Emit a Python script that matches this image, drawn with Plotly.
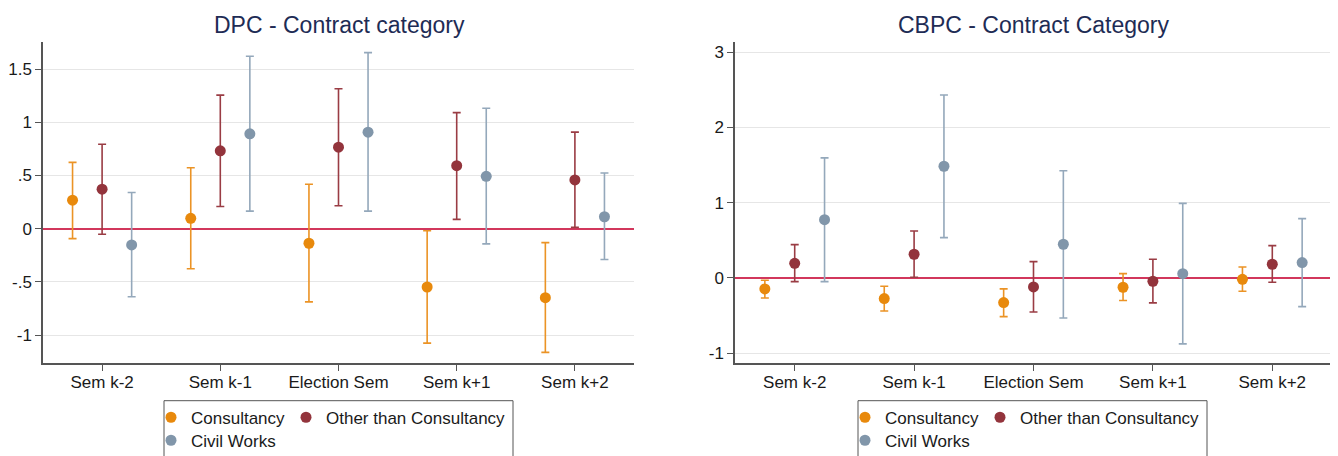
import plotly.graph_objects as go

# ---------------- data ----------------
categories = ["Sem k-2", "Sem k-1", "Election Sem", "Sem k+1", "Sem k+2"]
series_names = ["Consultancy", "Other than Consultancy", "Civil Works"]

# DPC panel
dpc_cons = [0.268, 0.097, -0.137, -0.548, -0.648]
dpc_cons_lo = [-0.093, -0.377, -0.688, -1.075, -1.162]
dpc_cons_hi = [0.623, 0.573, 0.418, -0.019, -0.131]
dpc_other = [0.371, 0.732, 0.766, 0.592, 0.458]
dpc_other_lo = [-0.053, 0.209, 0.215, 0.087, 0.012]
dpc_other_hi = [0.794, 1.255, 1.315, 1.090, 0.907]
dpc_civil = [-0.153, 0.891, 0.907, 0.492, 0.112]
dpc_civil_lo = [-0.639, 0.165, 0.165, -0.143, -0.290]
dpc_civil_hi = [0.340, 1.620, 1.654, 1.131, 0.523]

# CBPC panel
cbpc_cons = [-0.146, -0.275, -0.328, -0.124, -0.018]
cbpc_cons_lo = [-0.266, -0.439, -0.514, -0.301, -0.177]
cbpc_cons_hi = [-0.031, -0.110, -0.146, 0.057, 0.146]
cbpc_other = [0.195, 0.315, -0.120, -0.044, 0.182]
cbpc_other_lo = [-0.049, 0.009, -0.452, -0.332, -0.057]
cbpc_other_hi = [0.443, 0.625, 0.217, 0.248, 0.429]
cbpc_civil = [0.775, 1.485, 0.448, 0.057, 0.204]
cbpc_civil_lo = [-0.049, 0.536, -0.532, -0.877, -0.381]
cbpc_civil_hi = [1.596, 2.433, 1.426, 0.992, 0.789]

dpc_yticks = [-1, -0.5, 0, 0.5, 1, 1.5]
dpc_yticklabels = ["-1", "-.5", "0", ".5", "1", "1.5"]
cbpc_yticks = [-1, 0, 1, 2, 3]
cbpc_yticklabels = ["-1", "0", "1", "2", "3"]

titles = ["DPC - Contract category", "CBPC - Contract Category"]

# ---------------- style ----------------
# the page body has an 8px margin, so the figure is drawn from (8, 8)
OFF = 8
W, H = 1338 - OFF, 456 - OFF
ML = 43 - OFF
MT = 42 - OFF
PLOT_R = 1332 - OFF
PLOT_B = 363 - OFF
MR = W - PLOT_R
MB = H - PLOT_B
PW = W - ML - MR
PH = H - MT - MB
marker_colors = ["#E8890C", "#93343C", "#8196AA"]
bar_colors = ["#EB9325", "#9A3C44", "#94A8BB"]
offsets = [-0.25, 0.0, 0.25]
FONT = "Liberation Sans, Arial, sans-serif"


def px_x(p):
    """reference screen pixel -> paper x"""
    return (p - OFF - ML) / PW


def px_y(p):
    """reference screen pixel -> paper y"""
    return (MT + PH - (p - OFF)) / PH


fig = go.Figure()

panels = [
    ("x", "y", [(dpc_cons, dpc_cons_lo, dpc_cons_hi),
                (dpc_other, dpc_other_lo, dpc_other_hi),
                (dpc_civil, dpc_civil_lo, dpc_civil_hi)]),
    ("x2", "y2", [(cbpc_cons, cbpc_cons_lo, cbpc_cons_hi),
                  (cbpc_other, cbpc_other_lo, cbpc_other_hi),
                  (cbpc_civil, cbpc_civil_lo, cbpc_civil_hi)]),
]

legend_ids = [["legend", "legend2", "legend3"], ["legend4", "legend5", "legend6"]]

for p, (xa, ya, series) in enumerate(panels):
    for s, (vals, lo, hi) in enumerate(series):
        xs = [i + offsets[s] for i in range(len(categories))]
        fig.add_trace(go.Scatter(
            x=xs, y=vals, mode="markers", name=series_names[s],
            xaxis=xa, yaxis=ya, legend=legend_ids[p][s],
            marker=dict(color=marker_colors[s], size=11, line=dict(width=0)),
            error_y=dict(type="data", symmetric=False,
                         array=[h - v for h, v in zip(hi, vals)],
                         arrayminus=[v - l for v, l in zip(vals, lo)],
                         color=bar_colors[s], thickness=1.6, width=4),
            hoverinfo="skip",
        ))

# legend positions (left edge of each legend, reference screen pixels)
leg_rows = [417.7, 440.7]
leg_cols_left = [151, 286]
panel_shift = [0, 694]
leg_layout = {}
for p in range(2):
    places = [(leg_cols_left[0], leg_rows[0]), (leg_cols_left[1], leg_rows[0]),
              (leg_cols_left[0], leg_rows[1])]
    for s in range(3):
        lx, ly = places[s]
        leg_layout[legend_ids[p][s]] = dict(
            x=px_x(lx + panel_shift[p]), y=px_y(ly),
            xanchor="left", yanchor="middle",
            orientation="h", bgcolor="rgba(0,0,0,0)", borderwidth=0,
            font=dict(family=FONT, size=17, color="#1a1a1a"),
            itemwidth=30, itemclick=False, itemdoubleclick=False,
        )

shapes = []
for p in range(2):
    shapes.append(dict(type="rect", xref="paper", yref="paper",
                       x0=px_x(164 + panel_shift[p]), x1=px_x(513 + panel_shift[p]),
                       y0=px_y(470), y1=px_y(400.7),
                       line=dict(color="#555555", width=1), fillcolor="rgba(0,0,0,0)"))

axis_common = dict(showline=True, linecolor="#555555", linewidth=1.5,
                   ticks="outside", ticklen=6, tickwidth=1.2, tickcolor="#555555",
                   tickfont=dict(family=FONT, size=17, color="#1a1a1a"),
                   mirror=False, automargin=False)

x1_dom = [0, px_x(634)]
x2_dom = [px_x(735), 1]

fig.update_layout(
    width=W, height=H,
    margin=dict(l=ML, r=MR, t=MT, b=MB, autoexpand=False),
    paper_bgcolor="white", plot_bgcolor="white",
    showlegend=True,
    xaxis=dict(domain=x1_dom, range=[-0.5, 4.5], tickvals=list(range(len(categories))),
               ticktext=categories, showgrid=False, zeroline=False, anchor="y",
               ticklabelstandoff=-3, **axis_common),
    xaxis2=dict(domain=x2_dom, range=[-0.5, 4.5], tickvals=list(range(len(categories))),
                ticktext=categories, showgrid=False, zeroline=False, anchor="y2",
                ticklabelstandoff=-3, **axis_common),
    yaxis=dict(range=[-1.262, 1.754], tickvals=dpc_yticks, ticktext=dpc_yticklabels,
               showgrid=True, gridcolor="#E6E6E6", gridwidth=1,
               zeroline=True, zerolinecolor="#D2375C", zerolinewidth=2,
               anchor="x", **axis_common),
    yaxis2=dict(range=[-1.131, 3.137], tickvals=cbpc_yticks, ticktext=cbpc_yticklabels,
                showgrid=True, gridcolor="#E6E6E6", gridwidth=1,
                zeroline=True, zerolinecolor="#D2375C", zerolinewidth=2,
                anchor="x2", **axis_common),
    shapes=shapes,
    annotations=[
        dict(text=titles[0], xref="paper", yref="paper", x=px_x(339), y=px_y(25),
             xanchor="center", yanchor="middle", showarrow=False,
             font=dict(family=FONT, size=23, color="#1E2C55")),
        dict(text=titles[1], xref="paper", yref="paper", x=px_x(1033.5), y=px_y(25),
             xanchor="center", yanchor="middle", showarrow=False,
             font=dict(family=FONT, size=23, color="#1E2C55")),
    ],
    **leg_layout,
)

fig.write_html("out.html")
